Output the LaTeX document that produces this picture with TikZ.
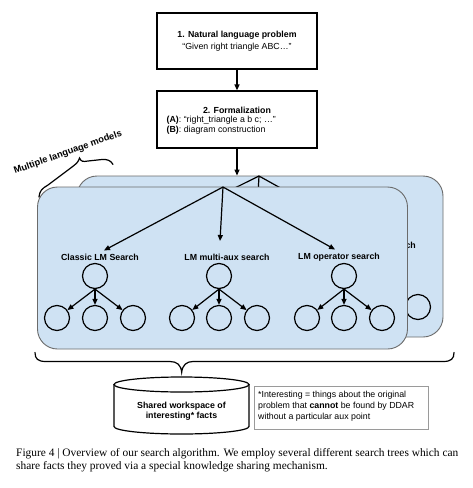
\documentclass[tikz,border=0pt]{standalone}
\usepackage{fontspec}
\setmainfont{Liberation Sans}
\newfontfamily\capfont{Liberation Serif}
\usetikzlibrary{arrows.meta}
\definecolor{panelfill}{HTML}{CFE2F3}
\definecolor{panelline}{HTML}{6B6B6B}
\definecolor{noteline}{HTML}{9A9A9A}
\begin{document}
\begin{tikzpicture}[x=1pt,y=-1pt,
  font=\fontsize{8.8}{10.6}\selectfont,
  line/.style={line width=1.2pt, draw=black},
  arr/.style={line width=1.2pt, draw=black, -{Triangle[length=6pt,width=5pt]}},
  box/.style={draw=black, line width=1.2pt, fill=white, minimum width=160pt, minimum height=56pt, inner sep=0pt},
  panel/.style={draw=panelline, line width=0.9pt, fill=panelfill, rounded corners=20pt, inner sep=0pt},
  circ/.style={circle, draw=black, line width=1.2pt, minimum size=25pt, inner sep=0pt},
  lbl/.style={font=\fontsize{8.8}{10.6}\selectfont\bfseries, inner sep=1pt},
  txt/.style={inner sep=0pt},
]
\useasboundingbox[fill=white] (0,0) rectangle (472,488);

% top boxes
\node[box] (p1) at (237,41) {};
\node[lbl] (p1t) at (237,35) {1. Natural language problem};
\node[txt] (p1s) at (237,47) {“Given right triangle ABC…”};
\node[box, minimum height=57pt] (p2) at (237,119.5) {};
\node[lbl] (p2t) at (237,110) {2. Formalization};
\node[txt, anchor=west, align=left, font=\fontsize{8.8}{10}\selectfont] (p2s) at (166.5,125.5)
  {\textbf{(A)}: “right\_triangle a b c; …”\\\textbf{(B)}: diagram construction};
\draw[arr] (p1.south) -- (p2.north);

% back panel
\node[panel, minimum width=366pt, minimum height=161pt] (bp) at (260,256.5) {};
\draw[arr] (p2.south) -- (p2.south |- bp.north);
\coordinate (bapex) at (259,176);
\coordinate (bend1) at (136,237);
\coordinate (bend2) at (256,230);
\node[lbl] (bl3) at (375,246) {LM operator search};
\draw[line] (bapex) -- (bend1);
\draw[line] (bapex) -- (bend2);
\draw[arr, shorten >=4.5pt] (bapex) -- (bl3.north);
\node[circ] (br3) at (380,265) {};
\node[circ] (bc31) at (343,307) {};
\node[circ] (bc32) at (380,307) {};
\node[circ] (bc33) at (418,307) {};
\foreach \c in {bc31,bc32,bc33} \draw[arr] (br3.south) -- (\c);

% front panel
\node[panel, minimum width=370pt, minimum height=162pt] (fp) at (222.5,268) {};
\coordinate (fapex) at (223,187);
\node[lbl] (l1) at (100,257) {Classic LM Search};
\node[lbl] (l2) at (227,257) {LM multi-aux search};
\node[lbl] (l3) at (339,257) {LM operator search};
\coordinate (m2) at (220,241);
\draw[arr, shorten >=4.5pt] (fapex) -- (l1.north);
\draw[arr] (fapex) -- (m2);
\draw[arr, shorten >=4.5pt] (fapex) -- (l3.north);

\node[circ] (r1) at (95,276) {};
\node[circ] (r2) at (219,276) {};
\node[circ] (r3) at (344,276) {};
\node[circ] (c11) at (57,318) {};
\node[circ] (c12) at (95,318) {};
\node[circ] (c13) at (133,318) {};
\node[circ] (c21) at (182,318) {};
\node[circ] (c22) at (219,318) {};
\node[circ] (c23) at (257,318) {};
\node[circ] (c31) at (307,318) {};
\node[circ] (c32) at (344,318) {};
\node[circ] (c33) at (382,318) {};
\foreach \r in {1,2,3} {
  \foreach \k in {1,2,3} \draw[arr] (r\r.south) -- (c\r\k);
}

% multiple language models brace
\node[lbl, rotate=19.5, font=\fontsize{9.3}{11}\selectfont\bfseries] (mlm) at (68,152.5) {Multiple language models};
\draw[line, line cap=round]
  (39,197) .. controls (39.5,191) and (42,188.5) .. (48,185)
  -- (72,167) .. controls (76,164) and (78.5,162) .. (79.5,158)
  .. controls (81,161.5) and (83,162) .. (88,161)
  -- (102,159.5) .. controls (107,159) and (111,160.5) .. (113,164.5);

% bottom brace
\draw[line, line cap=round]
  (35,352.5) .. controls (35,359) and (38,361.5) .. (46,361.5)
  -- (170,361.5) .. controls (177,361.5) and (181,365) .. (181.7,372.3)
  .. controls (182.5,365) and (186.5,361.5) .. (193,361.5)
  -- (443,361.5) .. controls (451,361.5) and (454,359) .. (454,352.5);

% cylinder
\draw[line, fill=white] (114,384.5) -- (114,426.5)
  arc[start angle=180, end angle=360, x radius=67.5pt, y radius=7.5pt]
  -- (249,384.5);
\draw[line, fill=white] (181.5,384.5) ellipse[x radius=67.5pt, y radius=7.5pt];
\node[lbl, align=center, font=\fontsize{8.8}{10}\selectfont\bfseries] (cyl) at (181.5,411)
  {Shared workspace of\\interesting* facts};

% note
\node[draw=noteline, line width=0.9pt, minimum width=174pt, minimum height=43pt, inner sep=0pt] (note) at (341,407.5) {};
\node[txt, anchor=west, align=left, font=\fontsize{8.8}{11}\selectfont] (notet) at (258,406)
  {*Interesting = things about the original\\problem that \textbf{cannot} be found by DDAR\\without a particular aux point};

% caption
\node[txt, anchor=base west, font=\capfont\fontsize{11.4}{13}\selectfont] (cap1) at (16,456.5)
  {Figure 4 | Overview of our search algorithm. We employ several different search trees which can};
\node[txt, anchor=base west, font=\capfont\fontsize{11.4}{13}\selectfont] (cap2) at (16,469.3)
  {share facts they proved via a special knowledge sharing mechanism.};
\end{tikzpicture}
\end{document}
